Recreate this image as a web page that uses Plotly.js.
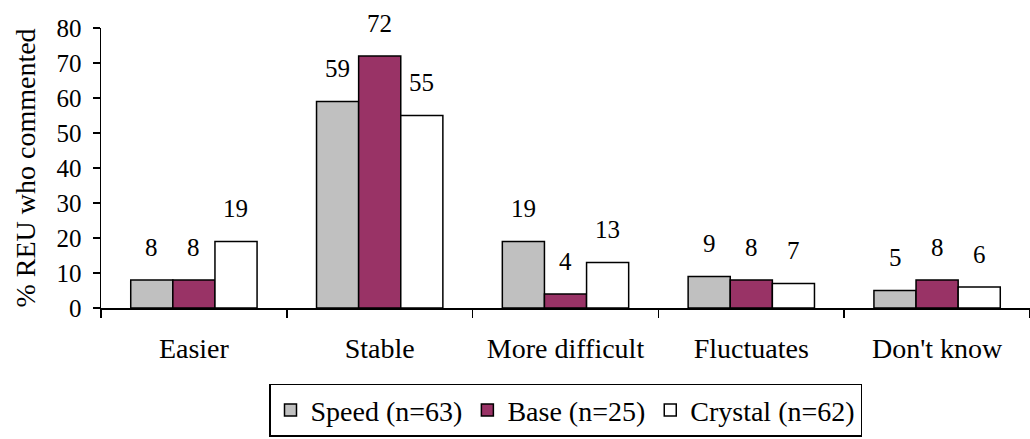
<!DOCTYPE html>
<html>
<head>
<meta charset="utf-8">
<script src="https://cdn.plot.ly/plotly-3.0.1.min.js"></script>
<style>
html,body{margin:0;padding:0;background:#fff;}
#chart{width:1030px;height:439px;}
</style>
</head>
<body>
<div id="chart"></div>
<script>
var categories = ["Easier", "Stable", "More difficult", "Fluctuates", "Don't know"];
var seriesNames = ["Speed (n=63)", "Base (n=25)", "Crystal (n=62)"];
var speed = [8, 59, 19, 9, 5];
var base = [8, 72, 4, 8, 8];
var crystal = [19, 55, 13, 7, 6];
var yTicks = [0, 10, 20, 30, 40, 50, 60, 70, 80];

var FONT = '"Liberation Serif", "DejaVu Serif", serif';
var colors = ["#C0C0C0", "#993366", "#FFFFFF"];
var allSeries = [speed, base, crystal];

var traces = allSeries.map(function (vals, i) {
  return {
    type: "bar",
    name: seriesNames[i],
    x: categories,
    y: vals,
    marker: { color: colors[i], line: { color: "#000", width: 1.5 } },
    hoverinfo: "skip"
  };
});

var barPx = 42;
var annotations = [];
allSeries.forEach(function (vals, i) {
  vals.forEach(function (v, j) {
    annotations.push({
      x: categories[j], y: v, xref: "x", yref: "y",
      text: String(v), showarrow: false,
      xshift: (i - 1) * barPx, yshift: 33, yanchor: "middle",
      font: { family: FONT, size: 25, color: "#000" }
    });
  });
});

var layout = {
  width: 1030, height: 439,
  margin: { l: 101, r: 0, t: 28, b: 131, autoexpand: false },
  paper_bgcolor: "#fff", plot_bgcolor: "#fff",
  barmode: "group", bargap: 0.32, bargroupgap: 0,
  font: { family: FONT, size: 24, color: "#000" },
  xaxis: {
    type: "category", showline: true, linecolor: "#000", linewidth: 1.5,
    ticks: "outside", tickson: "boundaries", ticklen: 8, tickwidth: 1.5, tickcolor: "#000",
    showgrid: false, zeroline: false, automargin: false,
    tickfont: { family: FONT, size: 28 }, ticklabelstandoff: 15
  },
  yaxis: {
    range: [0, 80], tickvals: yTicks, showline: true, linecolor: "#000", linewidth: 1.5,
    ticks: "outside", ticklen: 7, tickwidth: 1.5, tickcolor: "#000",
    showgrid: false, zeroline: false, automargin: false,
    tickfont: { family: FONT, size: 25 }, ticklabelstandoff: 6,
    title: { text: "% REU who commented", font: { family: FONT, size: 28 }, standoff: 12 }
  },
  showlegend: true,
  legend: {
    orientation: "h", x: 0.5, xanchor: "center",
    yref: "container", y: 0.005, yanchor: "bottom",
    bordercolor: "#000", borderwidth: 1.5, bgcolor: "#fff",
    font: { family: FONT, size: 28 }, itemwidth: 30, traceorder: "normal"
  },
  annotations: annotations
};

Plotly.newPlot("chart", traces, layout, { displayModeBar: false, staticPlot: true });
</script>
</body>
</html>
